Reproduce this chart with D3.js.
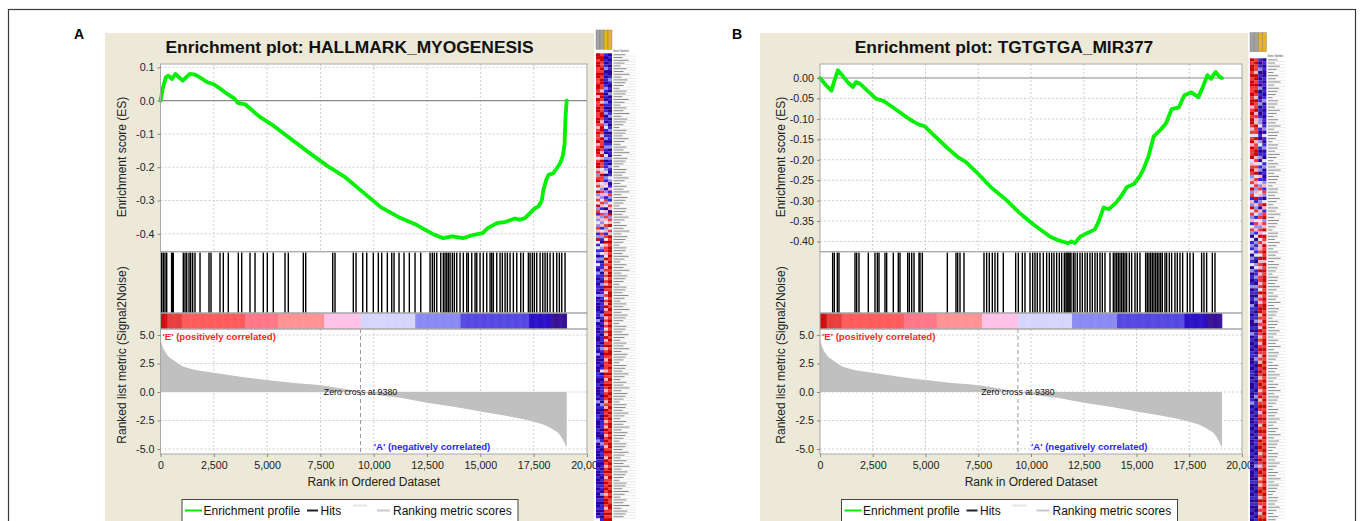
<!DOCTYPE html>
<html>
<head>
<meta charset="utf-8">
<script src="https://cdn.jsdelivr.net/npm/d3@7"></script>
<style>
  body { margin: 0; background: #fff; }
  svg text { font-family: "Liberation Sans", Arial, sans-serif; }
</style>
</head>
<body>
<svg id="chart" width="1360" height="521"></svg>
<script>
// ---- data ----
const xTicks = [0, 2500, 5000, 7500, 10000, 12500, 15000, 17500, 20000];
const metricTicks = [5, 2.5, 0, -2.5, -5];
const esTicksA = [0.1, 0.0, -0.1, -0.2, -0.3, -0.4];
const esTicksB = [0.00, -0.05, -0.10, -0.15, -0.20, -0.25, -0.30, -0.35, -0.40];
const zeroCross = 9380;

// ranked list metric (same ranked list in both panels)
const metricRank  = [0, 100, 300, 600, 1000, 1500, 2500, 3750, 5000, 6250, 7500, 8500, 9380, 10300, 11250, 12500, 13750, 15000, 16250, 17500, 18000, 18400, 18700, 18900, 19050];
const metricValue = [4.7, 4.0, 3.3, 2.8, 2.3, 2.0, 1.7, 1.35, 1.05, 0.8, 0.6, 0.3, 0, -0.3, -0.5, -0.95, -1.3, -1.7, -2.1, -2.6, -2.9, -3.3, -3.7, -4.3, -4.9];

// running enrichment score, panel A
const esRankA  = [0,120,250,370,540,700,870,1040,1200,1370,1620,1880,2210,2460,2710,3130,3470,3630,3970,4640,5310,6150,6980,7820,8660,9490,10330,11170,12000,12840,13260,13680,14180,14690,15100,15350,15770,16190,16610,16860,17090,17330,17560,17720,17880,17950,18080,18190,18420,18580,18740,18860,18950,18990,19050];
const esValueA = [0,0.04,0.07,0.075,0.065,0.08,0.07,0.06,0.07,0.08,0.078,0.068,0.055,0.05,0.04,0.02,0.006,-0.007,-0.011,-0.048,-0.076,-0.117,-0.157,-0.196,-0.23,-0.275,-0.32,-0.35,-0.373,-0.403,-0.413,-0.408,-0.413,-0.403,-0.398,-0.383,-0.368,-0.364,-0.354,-0.358,-0.353,-0.338,-0.323,-0.318,-0.30,-0.27,-0.24,-0.223,-0.218,-0.203,-0.188,-0.168,-0.13,-0.05,0];

// running enrichment score, panel B
const esRankB  = [0,289,543,662,849,1052,1307,1561,1697,1901,2240,2664,3004,3343,3682,4022,4361,4701,4955,5380,6058,6567,6907,7416,8095,8774,9453,10131,10556,10895,11234,11489,11744,11913,12083,12337,12677,13016,13186,13441,13695,14034,14289,14543,14883,15137,15307,15561,15816,16155,16410,16665,17004,17259,17598,17937,18141,18362,18532,18752,18956,19050];
const esValueB = [0,-0.018,-0.031,-0.01,0.019,0.007,-0.01,-0.022,-0.01,-0.014,-0.031,-0.051,-0.056,-0.068,-0.08,-0.093,-0.105,-0.114,-0.118,-0.139,-0.172,-0.195,-0.205,-0.23,-0.267,-0.296,-0.33,-0.359,-0.375,-0.388,-0.396,-0.40,-0.404,-0.40,-0.404,-0.388,-0.379,-0.371,-0.354,-0.317,-0.321,-0.305,-0.288,-0.267,-0.259,-0.242,-0.226,-0.193,-0.143,-0.126,-0.11,-0.076,-0.072,-0.043,-0.035,-0.047,-0.022,0.007,-0.002,0.015,0.002,0];

// gene set hit positions (rank)
const hitsA = [56,131,211,291,520,563,600,1069,1149,1229,1337,1416,1510,1618,1853,2275,2368,2791,2946,3180,3649,3808,4198,4433,4822,5009,5290,5839,5994,6697,6810,8076,8184,9042,9169,9483,9671,9980,10215,10374,10637,10843,10951,11186,11420,11669,11936,12203,12640,12747,12841,12954,13141,13263,13343,13423,13498,13578,13685,13779,13892,14047,14201,14361,14436,14595,14750,14830,14985,15139,15299,15454,15533,15608,15768,15922,16030,16157,16265,16392,16547,16706,16893,17015,17250,17330,17437,17531,17644,17799,17925,18033,18141,18268,18422,18582,18704,18816,18970];
const hitsB = [600,679,821,900,1659,1738,1848,2290,2606,2717,2796,3080,3159,3475,3712,3791,4155,4234,4345,4455,4692,4739,4850,6035,6445,6525,6635,6824,7772,7898,8024,8167,8293,8419,8688,9273,9400,9589,9715,9952,10078,10189,10299,10426,10584,10742,10868,10979,11089,11216,11342,11453,11579,11658,11705,11753,11800,11848,11895,12006,12085,12195,12321,12432,12558,12669,12795,12906,13032,13143,13269,13380,13506,13743,13901,13980,14059,14138,14217,14296,14375,14454,14533,14659,14770,14928,15038,15165,15433,15512,15591,15670,15749,15828,15907,15986,16065,16144,16223,16350,16429,16555,16666,16823,16934,17060,17187,17408,17534,17692,18087,18198,18324,18593,18719];

// metric thresholds for the colour bar
const colorBreaks = [-3.2, -2.5, -1.4, -0.75, 0, 0.55, 0.95, 1.3, 2.3, 3.3];

// heat map levels (0 = deep blue ... 6 = deep red), one string per sample column
const heatA = [
  "6656655665566564655665566545655645665356645256453624536251423254126313120213102101011020100011020100100101020001001100100010201001100010012001000100100100101001001001",
  "5665565656655466546556654566546556546465534655342542354135242413521032131201120110210121011102101011011012101010130101011101021010011101001210110101011010110201" + "0110101",
  "1010120101012101021012010231012012103201123021430241523042543524153645543645454545465353546456454535464564565455546545654565454656545465456545654654565456565456545654565456" .slice(0,160) + "6545656",
  "0101010012101020101001201012011012010210210132014152135406254635465656656565656656565665665656565656656565665665656565665656656565656656565665656565665655656565655" .slice(0,160) + "5665656"
];
const heatB = [
  "65665656655656645656654535646556345652453625142635241352031213021302010120101021101001020101011001011010010012010100101010010101001000100101010" + "1010010",
  "56554665656546556454465536455664535463545243614253135241302121310231121021102101011201011010101210100101101201101011010101101010120110101011010" + "0101101",
  "10120101020101201012231010231012031204132534125042534254635445364546455453645456645454654545654546565456545645654565456546565456545654545654654" + "5456545",
  "01010010101012010101012031012010312010124152036415625463654656564656566565656566565656565665656565656565656565656565656565656565656565656565656" + "5656565"
];

// ---- drawing ----
const svg = d3.select("#chart");
const heatColors = ["#2a0098", "#3a26d6", "#8f8ff0", "#e2e2fa", "#f7b6c6", "#f03a3a", "#cc0000"];
const bandHex = ["#2a0090", "#1e00c4", "#4a3ce0", "#8282f2", "#d2d2fe", "#ffbde6", "#ff8c8c", "#ff6e80", "#ff5050", "#e63232", "#c80000"];
const bandColor = d3.scaleThreshold().domain(colorBreaks).range(bandHex);
const metricAt = d3.scaleLinear().domain(metricRank).range(metricValue).clamp(true);
const labelW = [12, 9, 15, 11, 7, 13, 10, 16, 8, 14, 12, 10, 6, 13];
const fmt = f => d => d3.format(f)(d).replace("\u2212", "-");

// page frame
svg.append("rect").attr("x", 8.5).attr("y", 9.5).attr("width", 1347).attr("height", 540)
  .attr("fill", "#fff").attr("stroke", "#3a3a3a").attr("stroke-width", 1.2);

function drawPanel(p) {
  const g = svg.append("g");
  g.append("text").attr("x", p.letterX).attr("y", 39).attr("text-anchor", "middle")
    .attr("font-size", 14).attr("font-weight", "bold").text(p.letter);
  g.append("rect").attr("x", p.bgX).attr("y", 33).attr("width", p.bgW).attr("height", 500).attr("fill", "#ECE9D8");
  g.append("text").attr("x", p.bgX + p.bgW / 2).attr("y", 52.5).attr("text-anchor", "middle")
    .attr("font-size", 17.4).attr("font-weight", "bold").attr("fill", "#111").text(p.title);

  const x = d3.scaleLinear().domain([0, 20000]).range([p.left, p.right]);
  const yES = d3.scaleLinear().domain(p.esDomain).range([251.7, 64]);
  const yM = d3.scaleLinear().domain([-5.44, 5.53]).range([454, 329]);
  const boxes = [[64, 251.7], [251.7, 313], [313, 329], [329, 454]];
  const w = p.right - p.left;

  boxes.forEach(b => g.append("rect").attr("x", p.left).attr("y", b[0]).attr("width", w)
    .attr("height", b[1] - b[0]).attr("fill", "#fff"));

  // grid
  const inner = xTicks.slice(1, -1);
  [[64, 251.7], [329, 454]].forEach(b => {
    g.selectAll(null).data(inner).enter().append("line")
      .attr("x1", d => x(d)).attr("x2", d => x(d)).attr("y1", b[0]).attr("y2", b[1])
      .attr("stroke", "#cfcfcf").attr("stroke-dasharray", "2,2");
  });
  g.selectAll(null).data(p.esTicks.filter(d => d !== 0)).enter().append("line")
    .attr("x1", p.left).attr("x2", p.right).attr("y1", d => yES(d)).attr("y2", d => yES(d))
    .attr("stroke", "#cfcfcf").attr("stroke-dasharray", "2,2");
  g.selectAll(null).data(metricTicks).enter().append("line")
    .attr("x1", p.left).attr("x2", p.right).attr("y1", d => yM(d)).attr("y2", d => yM(d))
    .attr("stroke", "#cfcfcf").attr("stroke-dasharray", "2,2");
  g.append("line").attr("x1", p.left).attr("x2", p.right).attr("y1", yES(0)).attr("y2", yES(0))
    .attr("stroke", "#8a8a8a").attr("stroke-width", 1.2);

  // ranked list metric
  const mData = d3.zip(metricRank, metricValue);
  g.append("path").datum(mData)
    .attr("d", d3.area().x(d => x(d[0])).y0(yM(0)).y1(d => yM(d[1])).curve(d3.curveMonotoneX))
    .attr("fill", "#c0c0c0");
  g.append("line").attr("x1", x(zeroCross)).attr("x2", x(zeroCross)).attr("y1", 329).attr("y2", 454)
    .attr("stroke", "#9a9a9a").attr("stroke-dasharray", "4,3");

  // colour bar
  const steps = d3.range(0, metricRank[metricRank.length - 1], 25);
  g.selectAll(null).data(steps).enter().append("rect")
    .attr("x", d => x(d)).attr("y", 313).attr("height", 16)
    .attr("width", d => x(d + 25) - x(d) + 0.3)
    .attr("fill", d => bandColor(metricAt(d)));

  // hits
  g.selectAll(null).data(p.hits).enter().append("line")
    .attr("x1", d => x(d)).attr("x2", d => x(d)).attr("y1", 252.5).attr("y2", 313)
    .attr("stroke", "#000").attr("stroke-width", 1.4);

  // enrichment profile
  g.append("path").datum(d3.zip(p.esRank, p.esValue))
    .attr("d", d3.line().x(d => x(d[0])).y(d => yES(d[1])))
    .attr("fill", "none").attr("stroke", "#00f000").attr("stroke-width", 3.8)
    .attr("stroke-linejoin", "round").attr("stroke-linecap", "round");

  // box borders
  boxes.forEach(b => g.append("rect").attr("x", p.left).attr("y", b[0]).attr("width", w)
    .attr("height", b[1] - b[0]).attr("fill", "none").attr("stroke", "#a8a8a8"));

  // axes
  const styleAxis = a => {
    a.select(".domain").remove();
    a.selectAll(".tick line").attr("stroke", "#888");
    a.selectAll(".tick text").attr("font-size", 10.7).attr("fill", "#222")
      .style("font-family", '"Liberation Sans", Arial, sans-serif');
  };
  g.append("g").attr("transform", `translate(${p.left},0)`)
    .call(d3.axisLeft(yES).tickValues(p.esTicks).tickFormat(p.esFmt).tickSize(3).tickPadding(3)).call(styleAxis);
  g.append("g").attr("transform", `translate(${p.left},0)`)
    .call(d3.axisLeft(yM).tickValues(metricTicks).tickFormat(fmt(".1f")).tickSize(3).tickPadding(3)).call(styleAxis);
  g.append("g").attr("transform", "translate(0,454)")
    .call(d3.axisBottom(x).tickValues(xTicks).tickFormat(d3.format(",")).tickSize(3).tickPadding(4)).call(styleAxis);

  // texts
  g.append("text").attr("transform", `translate(${p.left - 35},157) rotate(-90)`).attr("text-anchor", "middle")
    .attr("font-size", 12).attr("fill", "#222").text("Enrichment score (ES)");
  g.append("text").attr("transform", `translate(${p.left - 35},355) rotate(-90)`).attr("text-anchor", "middle")
    .attr("font-size", 12).attr("fill", "#222").text("Ranked list metric (Signal2Noise)");
  g.append("text").attr("x", (p.left + p.right) / 2).attr("y", 486).attr("text-anchor", "middle")
    .attr("font-size", 12).attr("fill", "#222").text("Rank in Ordered Dataset");
  g.append("text").attr("x", p.left + 2).attr("y", 339.5).attr("font-size", 9.6).attr("font-weight", "bold")
    .attr("fill", "#ff2a2a").text("'E' (positively correlated)");
  g.append("text").attr("x", x(10000)).attr("y", 449.5).attr("font-size", 9.6).attr("font-weight", "bold")
    .attr("fill", "#2a2aff").text("'A' (negatively correlated)");
  g.append("text").attr("x", x(zeroCross)).attr("y", 395).attr("text-anchor", "middle")
    .attr("font-size", 8.8).attr("fill", "#111").text("Zero cross at " + zeroCross);

  // legend
  const L = p.left + 21.5;
  const lg = g.append("g");
  lg.append("rect").attr("x", L).attr("y", 499.5).attr("width", 336).attr("height", 30)
    .attr("fill", "#fff").attr("stroke", "#444");
  const item = (x1, x2, color, y, label, tx) => {
    lg.append("line").attr("x1", L + x1).attr("x2", L + x2).attr("y1", y).attr("y2", y)
      .attr("stroke", color).attr("stroke-width", 2);
    if (label) lg.append("text").attr("x", L + tx).attr("y", 515).attr("font-size", 12)
      .attr("fill", "#111").text(label);
  };
  item(3, 20, "#00f000", 510.5, "Enrichment profile", 21.5);
  item(125, 136, "#222", 510.5, "Hits", 138.5);
  item(171, 185, "#e4e4e4", 505.5, null, 0);
  item(195, 208, "#c8c8c8", 510.5, "Ranking metric scores", 211);

  // heat map of the gene set
  const hm = svg.append("g");
  const cols = p.heat.length;
  const nx = p.heatX + cols * p.cellW;
  hm.append("rect").attr("x", p.heatX).attr("y", p.headTop).attr("width", cols * p.cellW + p.namesW)
    .attr("height", 521 - p.headTop).attr("fill", "#fff");
  p.heat.forEach((col, c) => {
    hm.append("rect").attr("x", p.heatX + c * p.cellW).attr("y", p.headTop)
      .attr("width", p.cellW).attr("height", p.headBot - p.headTop)
      .attr("fill", c < 2 ? "#a2a2a2" : "#e6b422").attr("stroke", "#777").attr("stroke-width", 0.4);
    hm.selectAll(null).data(col.split("").map(Number)).enter().append("rect")
      .attr("x", p.heatX + c * p.cellW).attr("y", (d, i) => p.rowTop + i * p.rowH)
      .attr("width", p.cellW).attr("height", p.rowH + 0.1)
      .attr("fill", d => heatColors[d]);
  });
  hm.append("text").attr("x", nx + 1).attr("y", p.rowTop - 1.2).attr("font-size", 2.6).attr("fill", "#444")
    .text("Gene Symbol");
  const rows = d3.range(p.heat[0].length);
  hm.selectAll(null).data(rows).enter().append("line")
    .attr("x1", nx).attr("x2", nx + p.namesW).attr("y1", i => p.rowTop + (i + 1) * p.rowH)
    .attr("y2", i => p.rowTop + (i + 1) * p.rowH).attr("stroke", "#d8d8d8").attr("stroke-width", 0.5);
  hm.selectAll(null).data(rows).enter().append("line")
    .attr("x1", nx + 1.5).attr("x2", i => nx + 1.5 + labelW[i % labelW.length] * p.namesW / 24)
    .attr("y1", i => p.rowTop + (i + 0.5) * p.rowH).attr("y2", i => p.rowTop + (i + 0.5) * p.rowH)
    .attr("stroke", "#8a8a8a").attr("stroke-width", 1);
}

drawPanel({
  letter: "A", letterX: 79, title: "Enrichment plot: HALLMARK_MYOGENESIS",
  bgX: 105, bgW: 489, left: 160.5, right: 587,
  esDomain: [-0.4538, 0.11], esTicks: esTicksA, esFmt: fmt(".1f"),
  esRank: esRankA, esValue: esValueA, hits: hitsA, heat: heatA,
  heatX: 596, cellW: 4, namesW: 24, headTop: 30, headBot: 49.3, rowTop: 53.3, rowH: 2.8
});
drawPanel({
  letter: "B", letterX: 737, title: "Enrichment plot: TGTGTGA_MIR377",
  bgX: 760, bgW: 488, left: 820, right: 1242,
  esDomain: [-0.425, 0.0343], esTicks: esTicksB, esFmt: fmt(".2f"),
  esRank: esRankB, esValue: esValueB, hits: hitsB, heat: heatB,
  heatX: 1250, cellW: 4.1, namesW: 19, headTop: 32.7, headBot: 51.7, rowTop: 58.3, rowH: 3.15
});
</script>
</body>
</html>
